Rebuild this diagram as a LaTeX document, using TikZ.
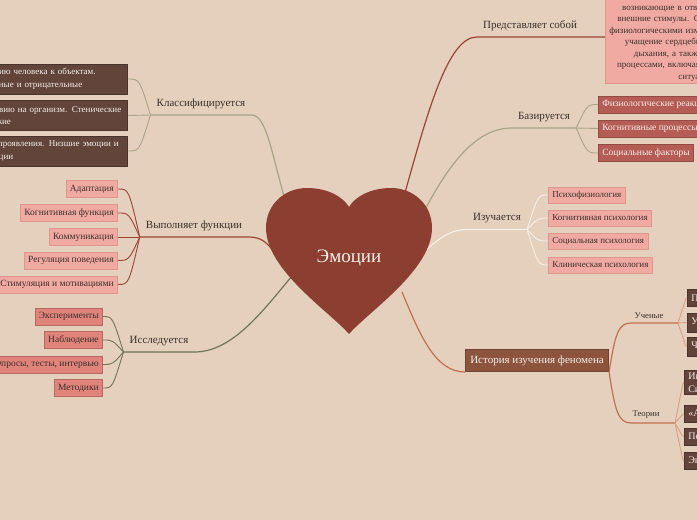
\documentclass[tikz,border=0pt]{standalone}
\usepackage{fontspec}
\setmainfont{Liberation Serif}
\usetikzlibrary{calc,positioning}

\definecolor{emBg}      {HTML}{E5CFBD}
\definecolor{emHeart}   {HTML}{8C3F30}
\definecolor{emInk}     {HTML}{3A302B}
\definecolor{emSnow}    {HTML}{F6EFEA}
\definecolor{emRust}    {HTML}{9A4535}
\definecolor{emSage}    {HTML}{A9A587}
\definecolor{emOlive}   {HTML}{717657}
\definecolor{emCream}   {HTML}{F7F0E8}
\definecolor{emCopper}  {HTML}{C1714E}
\definecolor{emCopperLt}{HTML}{D9A083}
\definecolor{emBrown}   {HTML}{62443A}
\definecolor{emHist}    {HTML}{8C533D}
\definecolor{emPink}    {HTML}{F0AAA2}
\definecolor{emCoral}   {HTML}{E0847B}
\definecolor{emRed}     {HTML}{B65C56}

\tikzset{
  lbl/.style={font=\fontsize{11}{13}\selectfont,text=emInk,inner xsep=6pt,inner ysep=6pt,anchor=south},
  sublbl/.style={font=\fontsize{8.7}{10}\selectfont,text=emInk,inner ysep=4pt,anchor=south},
  box/.style={inner xsep=4pt,inner ysep=2pt,minimum height=17pt,line width=0.6pt,font=\fontsize{9.5}{11}\selectfont},
  darkbox/.style={box,fill=emBrown,draw=emBrown!75!black,text=emSnow},
  pinkbox/.style={box,fill=emPink,draw=emPink!80!emRust,text=emInk},
  coralbox/.style={box,fill=emCoral,draw=emCoral!80!black,text=emInk},
  redbox/.style={box,fill=emRed,draw=emRed!80!black,text=emSnow},
  classbox/.style={darkbox,anchor=east,text width=173pt,align=left,inner xsep=3pt,
    minimum height=30pt,font=\fontsize{9}{12.6}\selectfont},
  studybox/.style={pinkbox,anchor=west,minimum height=16pt,font=\fontsize{9}{10}\selectfont},
  namebox/.style={darkbox,anchor=west,font=\fontsize{10}{12}\selectfont},
  mainline/.style={line width=1.2pt},
  forkline/.style={line width=0.9pt}
}

\begin{document}
\begin{tikzpicture}[x=1pt,y=-1pt]
  \useasboundingbox (0,0) rectangle (697,520);
  \clip (0,0) rectangle (697,520);
  \fill[emBg] (0,0) rectangle (697,520);

  % where the branches leave the heart
  \coordinate (hKl) at (285,200);
  \coordinate (hFn) at (274,252);
  \coordinate (hIs) at (292,276);
  \coordinate (hPr) at (403,200);
  \coordinate (hBz) at (422,215);
  \coordinate (hIz) at (426,250);
  \coordinate (hHi) at (402,292);

  % left side
  \node[lbl] (klass) at (201,115) {Классифицируется};
  \node[classbox] (k1) at (128,79)
    {\mbox{По отношению человека к объектам.}\\\mbox{Положительные и отрицательные}};
  \node[classbox] (k2) at (128,115.5)
    {\mbox{По воздействию на организм. Стенические}\\и астенические};
  \node[classbox] (k3) at (128,151)
    {\mbox{По уровню проявления. Низшие эмоции и}\\высшие эмоции};

  \node[lbl] (func) at (194,237) {Выполняет функции};
  \node[pinkbox,anchor=east] (f1) at (118,189) {Адаптация};
  \node[pinkbox,anchor=east] (f2) at (118,213) {Когнитивная функция};
  \node[pinkbox,anchor=east] (f3) at (118,237) {Коммуникация};
  \node[pinkbox,anchor=east] (f4) at (118,260.5) {Регуляция поведения};
  \node[pinkbox,anchor=east] (f5) at (118,284.5) {Стимуляция и мотивациями};

  \node[lbl] (issl) at (159,352) {Исследуется};
  \node[coralbox,anchor=east] (s1) at (103,316.5) {Эксперименты};
  \node[coralbox,anchor=east] (s2) at (103,340) {Наблюдение};
  \node[coralbox,anchor=east] (s3) at (103,364.5) {Опросы, тесты, интервью};
  \node[coralbox,anchor=east] (s4) at (103,388) {Методики};

  % right side
  \node[lbl] (pred) at (530,37) {Представляет собой};
  \node[pinkbox,anchor=south west,text width=176pt,align=center,inner ysep=2.5pt,
        font=\fontsize{9}{11.5}\selectfont] (predbox) at (605,84)
    {Эмоции -- это психические реакции,\\возникающие в ответ на внутренние и\\внешние стимулы. Они сопровождаются\\физиологическими изменениями, такими как\\учащение сердцебиения и изменение\\дыхания, а также когнитивными\\процессами, включая оценку значимости\\ситуации.};

  \node[lbl] (baz) at (544,128) {Базируется};
  \node[redbox,anchor=west] (b1) at (598,104.5) {Физиологические реакции};
  \node[redbox,anchor=west] (b2) at (598,128.5) {Когнитивные процессы};
  \node[redbox,anchor=west] (b3) at (598,153) {Социальные факторы};

  \node[lbl] (izuch) at (497,229.5) {Изучается};
  \node[studybox] (i1) at (548,195) {Психофизиология};
  \node[studybox] (i2) at (548,218) {Когнитивная психология};
  \node[studybox] (i3) at (548,241) {Социальная психология};
  \node[studybox] (i4) at (548,265) {Клиническая психология};

  \node[box,fill=emHist,draw=emHist!80!black,text=emSnow,minimum height=22pt,inner xsep=5pt,
        font=\fontsize{11}{13}\selectfont,anchor=south west] (hist) at (465,372) {История изучения феномена};

  \coordinate (uL) at (631,323);
  \coordinate (uR) at (678,323);
  \node[sublbl] (uch) at (649,323) {Ученые};
  \node[namebox] (u1) at (687,298) {П. Экман};
  \node[namebox,minimum height=19pt] (u2) at (687,322.5) {У. Джеймс};
  \node[namebox,minimum height=19pt] (u3) at (687,346.5) {Ч. Дарвин};

  \coordinate (tL) at (631,423);
  \coordinate (tR) at (675,423);
  \node[sublbl] (teor) at (646,423) {Теории};
  \node[namebox,align=left,font=\fontsize{10}{12.5}\selectfont] (t1) at (684,382.5) {Информационная теория\\Симонова};
  \node[namebox] (t2) at (684,414) {«Активационная» теория};
  \node[namebox] (t3) at (684,437) {Потребностно-информационная теория};
  \node[namebox] (t4) at (684,461) {Эволюционная теория};

  % branches
  \draw[emSage,mainline] (hKl) .. controls (271,150) and (266,115) .. (klass.south east) -- (klass.south west);
  \coordinate (kfc) at ($(klass.south west)+(-11,0)$);
  \foreach \b in {k1,k2,k3}
    \draw[emSage,forkline] (klass.south west) .. controls (kfc |- \b.east) .. (\b.east);

  \draw[emRust,mainline] (hFn) .. controls (266,241) and (260,237) .. (func.south east) -- (func.south west);
  \coordinate (ffc) at ($(func.south west)+(-11,0)$);
  \foreach \b in {f1,f2,f3,f4,f5}
    \draw[emRust,forkline] (func.south west) .. controls (ffc |- \b.east) .. (\b.east);

  \draw[emOlive,mainline] (hIs) .. controls (262,312) and (232,352) .. (issl.south east) -- (issl.south west);
  \coordinate (sfc) at ($(issl.south west)+(-11,0)$);
  \foreach \b in {s1,s2,s3,s4}
    \draw[emOlive,forkline] (issl.south west) .. controls (sfc |- \b.east) .. (\b.east);

  \draw[emRust,mainline] (hPr) .. controls (428,110) and (448,37) .. (pred.south west) -- (pred.south west -| predbox.west);

  \draw[emSage,mainline] (hBz) .. controls (445,172) and (472,128) .. (baz.south west) -- (baz.south east);
  \coordinate (bfc) at ($(baz.south east)+(11,0)$);
  \foreach \b in {b1,b2,b3}
    \draw[emSage,forkline] (baz.south east) .. controls (bfc |- \b.west) .. (\b.west);

  \draw[emCream,mainline] (hIz) .. controls (445,233) and (455,229.5) .. (izuch.south west) -- (izuch.south east);
  \coordinate (ifc) at ($(izuch.south east)+(11,0)$);
  \foreach \b in {i1,i2,i3,i4}
    \draw[emCream,forkline] (izuch.south east) .. controls (ifc |- \b.west) .. (\b.west);

  \draw[emCopper,mainline] (hHi) .. controls (420,335) and (435,372) .. (hist.south west);
  \draw[emCopper,mainline] (hist.south east) .. controls (615,335) and (618,323) .. (uL) -- (uR);
  \draw[emCopper,mainline] (hist.south east) .. controls (615,410) and (618,423) .. (tL) -- (tR);
  \coordinate (ufc) at ($(uR)+(8,0)$);
  \foreach \b in {u1,u2,u3}
    \draw[emCopperLt,forkline] (uR) .. controls (ufc |- \b.west) .. (\b.west);
  \coordinate (tfc) at ($(tR)+(8,0)$);
  \foreach \b in {t1,t2,t3,t4}
    \draw[emCopperLt,forkline] (tR) .. controls (tfc |- \b.west) .. (\b.west);

  % heart
  \fill[emHeart] (349,334) .. controls (330,312) and (266,270) .. (266,228)
    .. controls (266,204) and (285,188) .. (307,188)
    .. controls (328,188) and (343,197) .. (349,207)
    .. controls (355,197) and (370,188) .. (391,188)
    .. controls (413,188) and (432,204) .. (432,228)
    .. controls (432,270) and (368,312) .. (349,334) -- cycle;
  \node[text=emSnow,font=\fontsize{19}{22}\selectfont] (emo) at (349,258) {Эмоции};
\end{tikzpicture}
\end{document}
